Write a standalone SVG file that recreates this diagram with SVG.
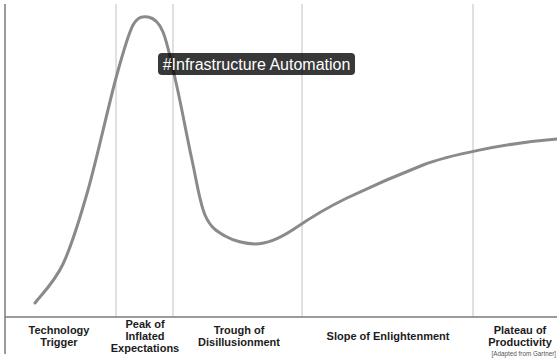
<svg xmlns="http://www.w3.org/2000/svg" width="557" height="359" viewBox="0 0 557 359">
  <style>
    .axis { stroke: #7a7a7a; stroke-width: 1.5; fill: none; }
    .phase-sep { stroke: #d6d6d6; stroke-width: 1.5; fill: none; }
    .curve { stroke: #8a8a8a; stroke-width: 3; fill: none; stroke-linecap: round; stroke-linejoin: round; }
    .phase { font-family: "Liberation Sans", Arial, sans-serif; font-size: 11px; font-weight: bold; fill: #1c1c1c; text-anchor: middle; }
    .tip-box { fill: #000; fill-opacity: 0.78; }
    .tip-text { font-family: "Liberation Sans", Arial, sans-serif; font-size: 16px; fill: #ffffff; text-anchor: middle; }
    .credit { font-family: "Liberation Sans", Arial, sans-serif; font-size: 6.3px; fill: #555; text-anchor: end; }
  </style>
  <rect width="557" height="359" fill="#ffffff"/>

  <!-- frame and phase separators -->
  <g id="frame">
    <line class="phase-sep" x1="116" y1="4" x2="116" y2="317"/>
    <line class="phase-sep" x1="173" y1="4" x2="173" y2="317"/>
    <line class="phase-sep" x1="302" y1="4" x2="302" y2="317"/>
    <line class="phase-sep" x1="473" y1="4" x2="473" y2="317"/>
    <line class="axis" x1="5" y1="4" x2="5" y2="354"/>
    <line class="axis" x1="5" y1="317" x2="557" y2="317"/>
  </g>

  <!-- hype curve -->
  <g id="connectors">
    <path class="curve" d="M35,303 C39.7,296.5 54.2,282.8 63,264 C71.8,245.2 79.2,221 88,190 C96.8,159 108.5,105.5 116,78 C123.5,50.5 127.7,35.2 133,25 C138.3,16 143,16.5 148,17 C153,17.8 158.2,20.3 163,32 C167.8,43.7 172.2,65.7 177,87 C181.8,108.3 187.3,138.7 192,160 C196.7,181.3 199.5,202.3 205,215 C210.5,227.7 216.7,231.2 225,236 C233.3,240.8 245.8,244 255,244 C266,244 279,239 294,229 C310,218 326.8,207.7 347,198 C372,186 400,174 423,165 S505,143 557,139"/>
  </g>

  <!-- tooltip label -->
  <g id="tooltip">
    <rect class="tip-box" x="158" y="53" width="197" height="22" rx="4"/>
    <text class="tip-text" x="256.5" y="70">#Infrastructure Automation</text>
  </g>

  <!-- phase names -->
  <g id="phase-trigger">
    <text class="phase" x="59" y="334">Technology</text>
    <text class="phase" x="59" y="346">Trigger</text>
  </g>
  <g id="phase-peak">
    <text class="phase" x="145" y="328">Peak of</text>
    <text class="phase" x="145" y="340">Inflated</text>
    <text class="phase" x="145" y="352">Expectations</text>
  </g>
  <g id="phase-trough">
    <text class="phase" x="239" y="334">Trough of</text>
    <text class="phase" x="239" y="346">Disillusionment</text>
  </g>
  <g id="phase-slope">
    <text class="phase" x="388" y="340">Slope of Enlightenment</text>
  </g>
  <g id="phase-plateau">
    <text class="phase" x="520" y="334">Plateau of</text>
    <text class="phase" x="520" y="346">Productivity</text>
  </g>

  <text class="credit" x="556" y="356">[Adapted from Gartner]</text>
</svg>
